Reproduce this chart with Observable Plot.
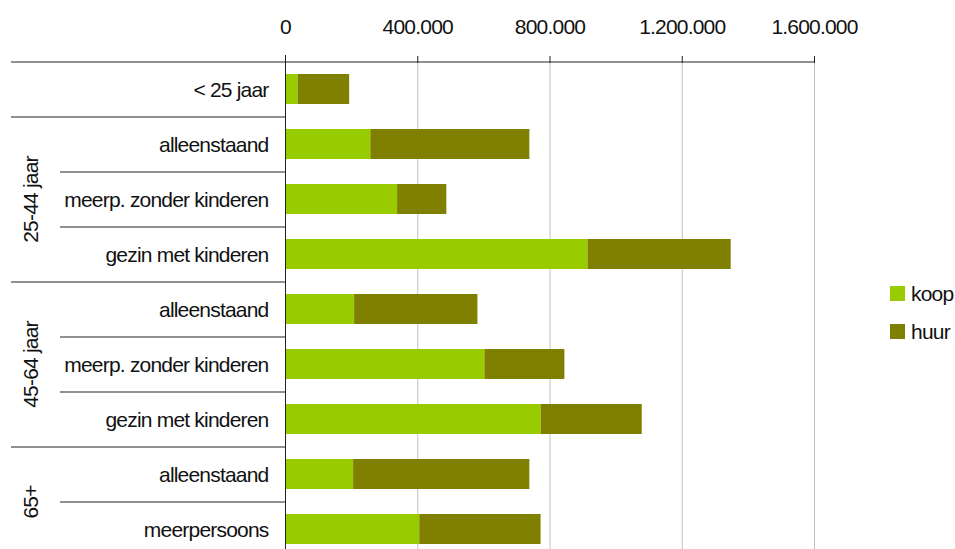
<!DOCTYPE html>
<html><head><meta charset="utf-8">
<script src="https://cdn.jsdelivr.net/npm/d3@7"></script>
<script src="https://cdn.jsdelivr.net/npm/@observablehq/plot@0.6"></script>
<style>
html,body{margin:0;padding:0;background:#fff;overflow:hidden;}
#wrap{position:relative;width:955px;height:549px;overflow:hidden;}
.item{position:absolute;left:890px;display:flex;align-items:center;height:15px;font-family:"Liberation Sans",Arial,sans-serif;font-size:21px;letter-spacing:-0.8px;color:#111;}
.sw{width:15px;height:15px;margin-right:6px;}
</style></head><body><div id="wrap"></div>
<script>
const groupLabels = ["25-44 jaar", "45-64 jaar", "65+"];
const categories = ["< 25 jaar", "alleenstaand", "meerp. zonder kinderen", "gezin met kinderen", "alleenstaand", "meerp. zonder kinderen", "gezin met kinderen", "alleenstaand", "meerpersoons"];
const series = ["koop", "huur"];
const colors = ["#99cc00", "#808000"];
const koop = [38000, 258000, 339000, 915000, 209000, 603000, 773000, 206000, 406000];
const huur = [156000, 481000, 149000, 433000, 373000, 242000, 306000, 533000, 367000];
const xTicks = [0, 400000, 800000, 1200000, 1600000];

const keys = categories.map((c, i) => i + "|" + c);
const rows = keys.flatMap((k, i) => [
  {key: k, series: "koop", value: koop[i]},
  {key: k, series: "huur", value: huur[i]}
]);
const nl = d3.formatLocale({decimal: ",", thousands: ".", grouping: [3], currency: ["€", ""]});
const fmt = nl.format(",d");

const chart = Plot.plot({
  width: 955, height: 557,
  marginLeft: 285, marginRight: 141, marginTop: 62, marginBottom: 0,
  style: {fontFamily: "'Liberation Sans', Arial, sans-serif", fontSize: "21px", letterSpacing: "-0.8px", color: "#111", background: "#fff"},
  x: {domain: [0, 1600000]},
  y: {domain: keys, paddingInner: 0.45, paddingOuter: 0.225},
  color: {domain: series, range: colors},
  marks: [
    Plot.gridX(xTicks, {stroke: "#c0c0c0", strokeOpacity: 1}),
    Plot.barX(rows, Plot.stackX({y: "key", x: "value", fill: "series", order: null})),
    Plot.ruleX([0], {stroke: "#222", insetTop: -7}),
    Plot.ruleY([keys[0]], {dy: -27.5, stroke: "#222", insetLeft: -274}),
    Plot.ruleY([keys[1], keys[4], keys[7]], {dy: -27.5, x1: 0, x2: 0, stroke: "#222", insetLeft: -274}),
    Plot.ruleY([keys[2], keys[3], keys[5], keys[6], keys[8]], {dy: -27.5, x1: 0, x2: 0, stroke: "#222", insetLeft: -225}),
    Plot.axisX(xTicks, {anchor: "top", tickSize: 7, tickPadding: 22, tickFormat: fmt, stroke: "#222", label: null}),
    Plot.axisY({tickSize: 0, tickPadding: 17, dy: 1, tickFormat: k => k.split("|")[1], label: null}),
    Plot.text([{label: groupLabels[0], key: keys[2]}, {label: groupLabels[1], key: keys[5]}],
      {y: "key", text: "label", frameAnchor: "left", dx: -254, rotate: -90, textAnchor: "middle", lineAnchor: "middle"}),
    Plot.text([{label: groupLabels[2], key: keys[7]}],
      {y: "key", text: "label", frameAnchor: "left", dx: -254, dy: 27.5, rotate: -90, textAnchor: "middle", lineAnchor: "middle"})
  ]
});
const wrap = document.getElementById("wrap");
wrap.appendChild(chart);
series.forEach((s, i) => {
  const it = document.createElement("div");
  it.className = "item";
  it.style.top = (286 + i * 38) + "px";
  it.innerHTML = `<div class="sw" style="background:${colors[i]}"></div><span>${s}</span>`;
  wrap.appendChild(it);
});
</script></body></html>
